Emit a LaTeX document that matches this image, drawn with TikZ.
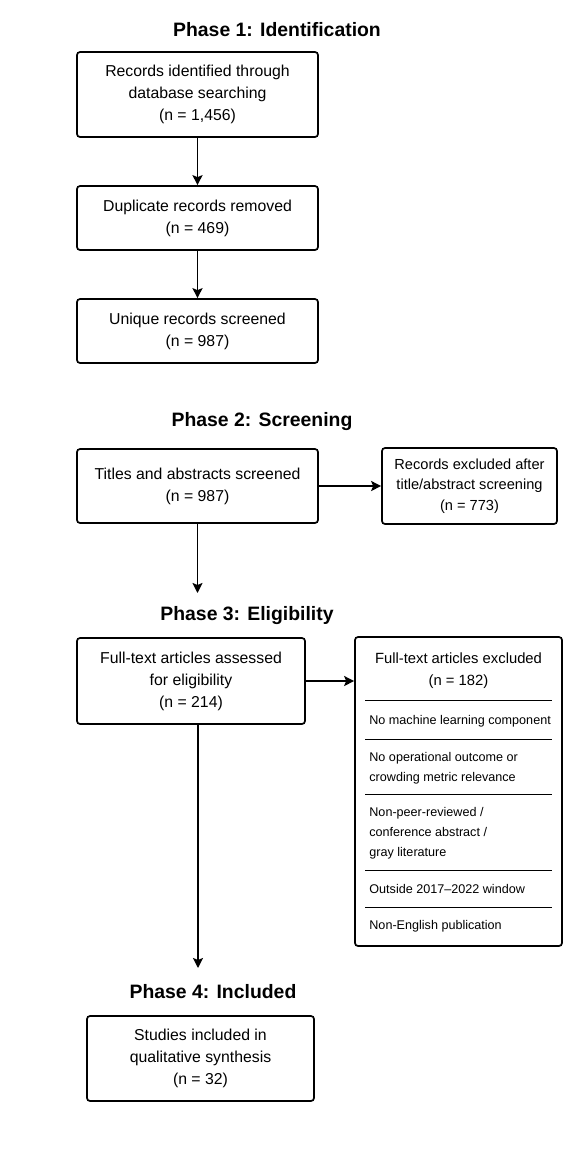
\documentclass[tikz,border=0pt]{standalone}
\usepackage{fontspec}
\setmainfont{Liberation Sans}
\usetikzlibrary{arrows.meta}
\begin{document}
\begin{tikzpicture}[x=0.5pt,y=-0.5pt,
  box/.style={draw,line width=0.85pt,rounded corners=1.5pt,align=center,inner sep=0pt,font=\fontsize{7.9}{11}\selectfont},
  small/.style={font=\fontsize{7.3}{10.2}\selectfont,align=center},
  phase/.style={font=\fontsize{9.7}{11}\selectfont\bfseries},
  item/.style={anchor=west,align=left,inner sep=0pt,font=\fontsize{6.3}{10}\selectfont},
  flow/.style={-{Stealth[length=5pt,width=5pt,inset=1pt]},line width=0.9pt},
  back/.style={{Stealth[length=5pt,width=5pt,inset=1pt]}-,line width=0.9pt}]
\useasboundingbox (0,0) rectangle (579,1158);
\node[phase] (phase1) at (277,30) {Phase 1: Identification};
\node[box,minimum width=120.5pt,minimum height=42.5pt] (identified) at (197.5,94.5) {Records identified through\\database searching\\(n = 1,456)};
\node[box,minimum width=120.5pt,minimum height=32pt] (duplicates) at (197.5,218) {Duplicate records removed\\(n = 469)} edge [back] (identified);
\node[box,minimum width=120.5pt,minimum height=32pt] (unique) at (197.5,331) {Unique records screened\\(n = 987)} edge [back] (duplicates);
\node[phase] (phase2) at (262,422) {Phase 2: Screening};
\node[box,minimum width=120.5pt,minimum height=37pt] (titles) at (197.5,486) {Titles and abstracts screened\\(n = 987)};
\node[box,small,minimum width=87.5pt,minimum height=38pt] (excluded1) at (469.5,486) {Records excluded after\\title/abstract screening\\(n = 773)} edge [back] (titles);
\coordinate (p2end) at (197.5,593);
\draw[flow] (titles.south) -- (p2end);
\node[phase] (phase3) at (247,616) {Phase 3: Eligibility};
\node[box,minimum width=114pt,minimum height=43pt] (fulltext) at (191,681) {Full-text articles assessed\\for eligibility\\(n = 214)};
\node[box,minimum width=103.5pt,minimum height=154.5pt] (excluded2) at (458.5,791.5) {};
\node[small,font=\fontsize{7.4}{11.2}\selectfont] (reasons) at (458.5,670.5) {Full-text articles excluded\\(n = 182)};
\draw[flow] (fulltext.east) -- (fulltext.east -| excluded2.west);
\foreach \y in {700,739,794,870,907}
  \draw[line width=0.5pt] (365,\y) -- (552,\y);
\node[item] (ml) at (369,721) {No machine learning component};
\node[item] (outcome) at (369,768) {No operational outcome or\\crowding metric relevance};
\node[item] (peer) at (369,833) {Non-peer-reviewed /\\conference abstract /\\gray literature};
\node[item] (window) at (369,889) {Outside 2017--2022 window};
\node[item] (english) at (369,926) {Non-English publication};
\coordinate (p3end) at (198,968);
\draw[flow] (fulltext.south -| p3end) -- (p3end);
\node[phase] (phase4) at (213,992) {Phase 4: Included};
\node[box,minimum width=113.5pt,minimum height=42.5pt] (included) at (200.5,1058.5) {Studies included in\\qualitative synthesis\\(n = 32)};
\end{tikzpicture}
\end{document}
